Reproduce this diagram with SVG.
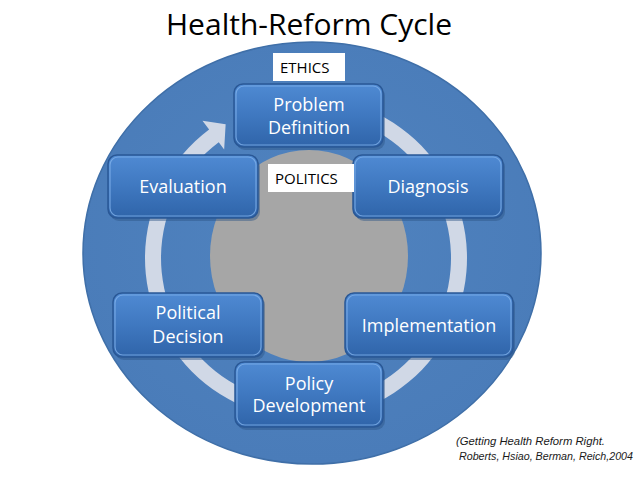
<svg xmlns="http://www.w3.org/2000/svg" width="638" height="479" viewBox="0 0 638 479">
  <defs>
    <linearGradient id="boxGrad" x1="0" y1="0" x2="0" y2="1">
      <stop offset="0" stop-color="#4f8ad3"/>
      <stop offset="0.5" stop-color="#3f78c0"/>
      <stop offset="1" stop-color="#2f64a9"/>
    </linearGradient>
    <radialGradient id="bigGrad" cx="0.5" cy="0.45" r="0.55">
      <stop offset="0" stop-color="#5083bf"/>
      <stop offset="1" stop-color="#4a7cb9"/>
    </radialGradient>
  </defs>
  <style>
    .box { fill: url(#boxGrad); stroke: #2a5896; stroke-width: 1.5; }
    .hl { fill: none; stroke: #7fb0ea; stroke-width: 1.2; opacity: 0.8; }
    .shadow { fill: #2d5486; opacity: 0.45; }
    .lbl { font-family: "Open Sans", "Liberation Sans", sans-serif; font-size: 18px; fill: #ffffff; text-anchor: middle; }
    .tag { fill: #ffffff; }
    .tagtxt { font-family: "Open Sans", "Liberation Sans", sans-serif; font-size: 15px; fill: #000000; }
  </style>

  <!-- title -->
  <text x="309" y="35" font-family="'Open Sans', 'Liberation Sans', sans-serif" font-size="30" fill="#000000" text-anchor="middle">Health-Reform Cycle</text>

  <!-- background shapes -->
  <ellipse cx="312" cy="253" rx="229" ry="211" fill="url(#bigGrad)" stroke="#3f6fa8" stroke-width="1.5"/>
  <ellipse cx="309" cy="256" rx="99" ry="106" fill="#a6a6a6"/>

  <!-- connectors: circular arrow -->
  <g id="connectors">
    <path d="M 333.96 99.45 A 161 161 0 1 1 209.11 129.42 L 202.49 120.63 L 225.65 124.28 L 224.15 149.38 L 218.74 142.20 A 145 145 0 1 0 331.18 115.20 Z" fill="#d0d8e6"/>
  </g>

  <!-- nodes -->
  <g id="problem-definition">
    <rect class="shadow" x="236" y="87" width="149" height="63" rx="9"/>
    <rect class="box" x="234" y="84" width="149" height="63" rx="9"/>
    <rect class="hl" x="236" y="86" width="145" height="59" rx="8"/>
    <text class="lbl" x="309" y="111">Problem</text>
    <text class="lbl" x="309" y="134">Definition</text>
  </g>

  <g id="evaluation">
    <rect class="shadow" x="110" y="158" width="150" height="63" rx="9"/>
    <rect class="box" x="108" y="155" width="150" height="63" rx="9"/>
    <rect class="hl" x="110" y="157" width="146" height="59" rx="8"/>
    <text class="lbl" x="183" y="193">Evaluation</text>
  </g>

  <g id="diagnosis">
    <rect class="shadow" x="355" y="158" width="150" height="63" rx="9"/>
    <rect class="box" x="353" y="155" width="150" height="63" rx="9"/>
    <rect class="hl" x="355" y="157" width="146" height="59" rx="8"/>
    <text class="lbl" x="428" y="193">Diagnosis</text>
  </g>

  <g id="political-decision">
    <rect class="shadow" x="115" y="296" width="150" height="64" rx="9"/>
    <rect class="box" x="113" y="293" width="150" height="64" rx="9"/>
    <rect class="hl" x="115" y="295" width="146" height="60" rx="8"/>
    <text class="lbl" x="188" y="319">Political</text>
    <text class="lbl" x="188" y="343">Decision</text>
  </g>

  <g id="implementation">
    <rect class="shadow" x="347" y="296" width="168" height="64" rx="9"/>
    <rect class="box" x="345" y="293" width="168" height="64" rx="9"/>
    <rect class="hl" x="347" y="295" width="164" height="60" rx="8"/>
    <text class="lbl" x="429" y="332">Implementation</text>
  </g>

  <g id="policy-development">
    <rect class="shadow" x="237" y="365" width="148" height="65" rx="9"/>
    <rect class="box" x="235" y="362" width="148" height="65" rx="9"/>
    <rect class="hl" x="237" y="364" width="144" height="61" rx="8"/>
    <text class="lbl" x="309" y="390">Policy</text>
    <text class="lbl" x="309" y="412">Development</text>
  </g>

  <!-- labels -->
  <g id="ethics">
    <rect class="tag" x="273" y="53" width="72" height="28"/>
    <text class="tagtxt" x="280" y="73">ETHICS</text>
  </g>
  <g id="politics">
    <rect class="tag" x="268" y="164" width="86" height="28"/>
    <text class="tagtxt" x="275" y="184">POLITICS</text>
  </g>

  <!-- citation -->
  <g id="citation" font-family="'Liberation Sans', Arial, sans-serif" font-size="11" font-style="italic" fill="#1a1a1a">
    <text x="456" y="445" textLength="149" lengthAdjust="spacingAndGlyphs">(Getting Health Reform Right.</text>
    <text x="459" y="460" textLength="174" lengthAdjust="spacingAndGlyphs">Roberts, Hsiao, Berman, Reich,2004</text>
  </g>
</svg>
